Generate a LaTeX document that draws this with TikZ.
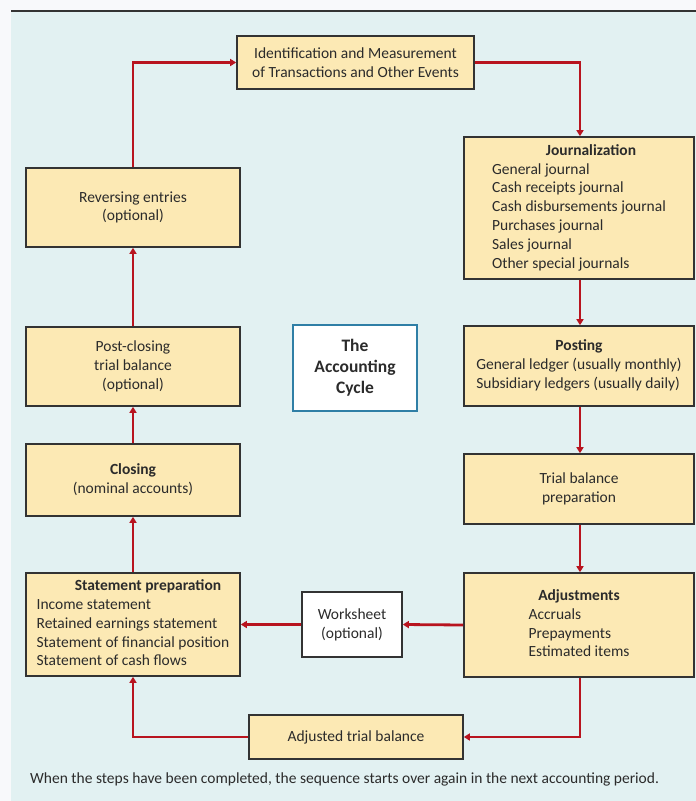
\documentclass[tikz,border=0pt]{standalone}
\usepackage{fontspec}
\setmainfont{Carlito}
\usetikzlibrary{arrows.meta}
\definecolor{bgblue}{HTML}{E2F1F2}
\definecolor{pagewhite}{HTML}{F8F9FB}
\definecolor{boxfill}{HTML}{FCE9B4}
\definecolor{boxline}{HTML}{333333}
\definecolor{flowred}{HTML}{B8141F}
\definecolor{cycleblue}{HTML}{2F7FA6}
\definecolor{txt}{HTML}{2B2B2B}
\tikzset{
  stepbox/.style={draw=boxline, fill=boxfill, line width=1.6pt, inner sep=0pt,
    font=\fontsize{15.5}{18.8}\selectfont, text=txt, align=center},
  sz/.style 2 args={minimum width=#1pt, minimum height=#2pt},
  flow/.style={draw=flowred, line width=2.8pt, -{Triangle[length=6pt,width=7pt]}},
}
\begin{document}
\begin{tikzpicture}[x=1pt,y=-1pt]
\useasboundingbox (0,0) rectangle (696,801);
\fill[pagewhite] (0,0) rectangle (696,801);
\fill[bgblue] (11,11) rectangle (696,801);
\draw[boxline, line width=2pt] (11,11) -- (696,11);

\node[stepbox, sz={237}{53}] (ident) at (355.5,62.5)
  {Identification and Measurement\\of Transactions and Other Events};
\node[stepbox, sz={230}{142}] (journ) at (579,208)
  {\begin{tabular}{@{}l@{}}\multicolumn{1}{@{}c@{}}{\hspace{24pt}\textbf{Journalization}}\\
   General journal\\Cash receipts journal\\Cash disbursements journal\\Purchases journal\\Sales journal\\Other special journals\end{tabular}};
\node[stepbox, sz={230}{80}] (post) at (579,366)
  {\begin{tabular}{@{}l@{}}\multicolumn{1}{@{}c@{}}{\textbf{Posting}}\\
   General ledger (usually monthly)\\Subsidiary ledgers (usually daily)\end{tabular}};
\node[stepbox, sz={230}{70}] (trial) at (579,489)
  {Trial balance\\preparation};
\node[stepbox, sz={230}{104}] (adj) at (579,625)
  {\begin{tabular}{@{}l@{}}\multicolumn{1}{@{}c@{}}{\textbf{Adjustments}}\\
   Accruals\\Prepayments\\Estimated items\end{tabular}};
\node[stepbox, sz={214}{44}] (adjtb) at (356,737)
  {Adjusted trial balance};
\node[stepbox, fill=white, sz={100}{65}] (work) at (352,624.5)
  {Worksheet\\(optional)};
\node[stepbox, sz={214}{103}] (stmt) at (133,624.5)
  {\begin{tabular}{@{}l@{}}\multicolumn{1}{@{}c@{}}{\hspace{30pt}\textbf{Statement preparation}}\\
   Income statement\\Retained earnings statement\\Statement of financial position\\Statement of cash flows\end{tabular}};
\node[stepbox, sz={214}{72}] (close) at (133,480)
  {\textbf{Closing}\\(nominal accounts)};
\node[stepbox, sz={214}{79}] (postclose) at (133,366.5)
  {Post-closing\\trial balance\\(optional)};
\node[stepbox, sz={214}{79}] (rev) at (133,207.5)
  {Reversing entries\\(optional)};
\node[draw=cycleblue, fill=white, line width=2.6pt, inner sep=0pt, sz={124}{86},
  align=center, text=txt, font=\fontsize{17.5}{21}\selectfont\bfseries] (cycle) at (355,368)
  {The\\Accounting\\Cycle};

\coordinate (c1) at (580,62.5);
\draw[flow] (ident.east) -- (c1) -- (c1 |- journ.north);
\draw[flow] (journ.south -| c1) -- (post.north -| c1);
\draw[flow] (post.south -| c1) -- (trial.north -| c1);
\draw[flow] (trial.south -| c1) -- (adj.north -| c1);
\draw[flow] (adj.west) -- (work.east);
\draw[flow] (work.west) -- (stmt.east);
\coordinate (c2) at (580,737);
\draw[flow] (adj.south -| c2) -- (c2) -- (adjtb.east);
\coordinate (c3) at (133,737);
\draw[flow] (adjtb.west) -- (c3) -- (stmt.south);
\draw[flow] (stmt.north) -- (close.south);
\draw[flow] (close.north) -- (postclose.south);
\draw[flow] (postclose.north) -- (rev.south);
\coordinate (c4) at (133,62.5);
\draw[flow] (rev.north) -- (c4) -- (ident.west);

\node[anchor=west, inner sep=0pt, text=txt, font=\fontsize{15.5}{18}\selectfont] (caption) at (30,779)
  {When the steps have been completed, the sequence starts over again in the next accounting period.};
\end{tikzpicture}
\end{document}
